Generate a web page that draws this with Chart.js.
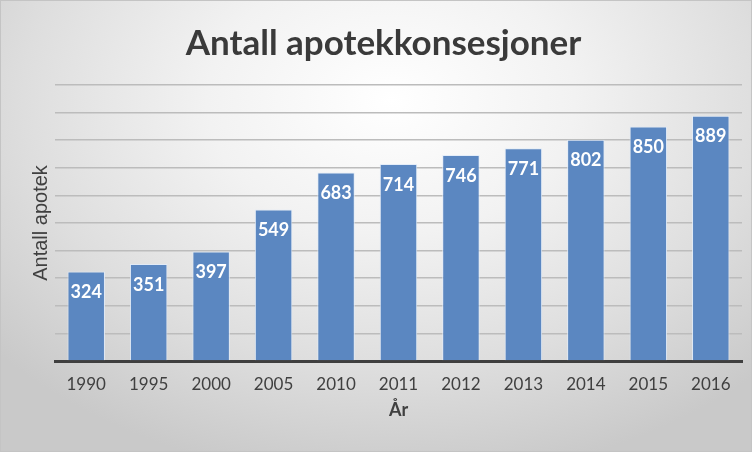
<!DOCTYPE html>
<html>
<head>
<meta charset="utf-8">
<script src="https://cdn.jsdelivr.net/npm/chart.js@4"></script>
<style>
  html, body { margin: 0; padding: 0; }
  body { width: 752px; height: 452px; overflow: hidden; }
  .wrap {
    position: relative; width: 750px; height: 450px;
    border: 1px solid #c4c4c4;
    background: radial-gradient(ellipse 70% 85% at 52% 22%, #ffffff 0%, #f2f2f2 35%, #dedede 70%, #c9c9c9 100%);
  }
  canvas { display: block; }
</style>
</head>
<body>
<div class="wrap"><canvas id="main-chart" width="750" height="450"></canvas></div>
<script>
const years = ['1990', '1995', '2000', '2005', '2010', '2011', '2012', '2013', '2014', '2015', '2016'];
const pharmacies = [324, 351, 397, 549, 683, 714, 746, 771, 802, 850, 889];

const chartTitle = 'Antall apotekkonsesjoner';
const yTitle = 'Antall apotek';
const xTitle = 'År';

const FONT = "Lato, 'Noto Sans', sans-serif";

// white numbers just inside the top of each bar
const barLabels = {
  id: 'barLabels',
  afterDatasetsDraw(chart) {
    const { ctx } = chart;
    const meta = chart.getDatasetMeta(0);
    ctx.save();
    ctx.fillStyle = '#ffffff';
    ctx.font = 'bold 18px ' + FONT;
    ctx.textAlign = 'center';
    ctx.textBaseline = 'middle';
    meta.data.forEach((bar, i) => {
      ctx.fillText(chart.data.datasets[0].data[i], bar.x, bar.y + 21);
    });
    ctx.restore();
  }
};

new Chart(document.getElementById('main-chart'), {
  type: 'bar',
  data: {
    labels: years,
    datasets: [{
      data: pharmacies,
      backgroundColor: '#5b87c1',
      borderColor: 'rgba(225,235,248,0.9)',
      borderWidth: 1,
      categoryPercentage: 0.6,
      barPercentage: 1
    }]
  },
  options: {
    responsive: false,
    animation: false,
    layout: { padding: { left: 24, right: 9, top: 10, bottom: 26 } },
    plugins: {
      legend: { display: false },
      tooltip: { enabled: false },
      title: {
        display: true,
        text: chartTitle,
        color: '#3a3a3a',
        font: { family: FONT, size: 35, weight: 'bold' },
        padding: { top: 12, bottom: 20 }
      }
    },
    scales: {
      x: {
        grid: { display: false },
        border: { color: '#3f3f3f', width: 3 },
        ticks: { color: '#404040', font: { family: FONT, size: 17 }, padding: 5 },
        title: { display: true, text: xTitle, color: '#404040', font: { family: FONT, size: 18, weight: 'bold' }, padding: { top: 0 } }
      },
      y: {
        min: 0,
        max: 1000,
        ticks: { display: false, stepSize: 100 },
        grid: { color: '#bcbcbc', lineWidth: 1.5, drawTicks: false },
        border: { display: false },
        title: { display: true, text: yTitle, color: '#404040', font: { family: "'Liberation Sans', Arial, sans-serif", size: 20 }, padding: { bottom: 2 } }
      }
    }
  },
  plugins: [barLabels]
});
</script>
</body>
</html>
